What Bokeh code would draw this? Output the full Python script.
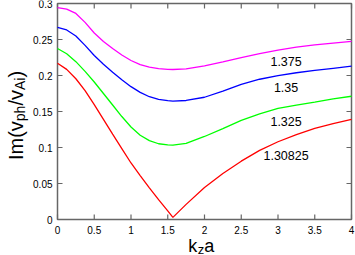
import math
from bokeh.plotting import figure
from bokeh.models import Range1d
from bokeh.core.properties import value
from bokeh.embed import file_html
from bokeh.resources import INLINE

# ---- data ----
kza = [0.0, 0.125, 0.25, 0.375, 0.5, 0.625, 0.75, 0.875, 1.0, 1.125, 1.25, 1.375, 1.5, 1.57,
       1.75, 2.0, 2.25, 2.5, 2.75, 3.0, 3.25, 3.5, 3.75, 4.0]
im_1375 = [0.2944, 0.2922, 0.2862, 0.2738, 0.2590, 0.2472, 0.2375, 0.2285, 0.2208, 0.2150, 0.2115, 0.2095, 0.2086, 0.2083,
           0.2093, 0.2133, 0.2188, 0.2248, 0.2303, 0.2353, 0.2393, 0.2425, 0.2450, 0.2475]
im_1350 = [0.2667, 0.2632, 0.2548, 0.2418, 0.2277, 0.2155, 0.2045, 0.1940, 0.1845, 0.1765, 0.1705, 0.1667, 0.1650, 0.1645,
           0.1653, 0.1698, 0.1783, 0.1878, 0.1948, 0.1998, 0.2038, 0.2070, 0.2100, 0.2130]
im_1325 = [0.2375, 0.2302, 0.2192, 0.2057, 0.1910, 0.1750, 0.1590, 0.1430, 0.1285, 0.1170, 0.1095, 0.1052, 0.1036, 0.1033,
           0.1058, 0.1153, 0.1263, 0.1378, 0.1468, 0.1543, 0.1590, 0.1630, 0.1675, 0.1712]
im_130825 = [0.2170, 0.2085, 0.1955, 0.1790, 0.1595, 0.1390, 0.1185, 0.0985, 0.0785, 0.0610, 0.0440, 0.0275, 0.0120, 0.0030,
             0.0210, 0.0445, 0.0640, 0.0810, 0.0960, 0.1080, 0.1180, 0.1265, 0.1330, 0.1390]

series_names = ["1.375", "1.35", "1.325", "1.30825"]
series_colors = ["#ff00ff", "#0000ff", "#00ff00", "#ff0000"]
series_values = [im_1375, im_1350, im_1325, im_130825]
label_x = [3.11, 3.11, 3.11, 3.11]
label_y = [0.2199, 0.1838, 0.1361, 0.0889]

x_min, x_max = 0, 4
y_min, y_max = 0, 0.3
x_ticks = [0, 0.5, 1, 1.5, 2, 2.5, 3, 3.5, 4]
x_tick_labels = ["0", "0.5", "1", "1.5", "2", "2.5", "3", "3.5", "4"]
y_ticks = [0, 0.05, 0.1, 0.15, 0.2, 0.25, 0.3]
y_tick_labels = ["0", "0.05", "0.1", "0.15", "0.2", "0.25", "0.3"]

# ---- layout (pixels) ----
FONT = "Liberation Sans"
FRAME = "#666666"
W, H = 355, 255
PX_L, PX_R, PX_T, PX_B = 57, 351, 3, 219     # plot box edges on the canvas

sx = (x_max - x_min) / (PX_R - PX_L)          # data units per pixel
sy = (y_max - y_min) / (PX_B - PX_T)
x_range = Range1d(x_min - PX_L * sx, x_max + (W - PX_R) * sx)
y_range = Range1d(y_min - (H - PX_B) * sy, y_max + PX_T * sy)

p = figure(width=W, height=H, output_backend="svg", toolbar_location=None,
           x_range=x_range, y_range=y_range,
           min_border=0, min_border_left=0, min_border_right=0, min_border_top=0, min_border_bottom=0,
           x_axis_location=None, y_axis_location=None)
p.grid.visible = False
p.outline_line_color = None
p.background_fill_color = "white"
p.border_fill_color = "white"

# plot box
p.quad(left=[x_min], right=[x_max], bottom=[y_min], top=[y_max],
       fill_color=None, line_color=FRAME, line_width=1.5)

# inward ticks on all four sides
TICK = 5
p.ray(x=x_ticks, y=[y_min] * len(x_ticks), length=TICK, length_units="screen", angle=math.pi / 2,
      line_color=FRAME, line_width=1.2)
p.ray(x=x_ticks, y=[y_max] * len(x_ticks), length=TICK, length_units="screen", angle=-math.pi / 2,
      line_color=FRAME, line_width=1.2)
p.ray(x=[x_min] * len(y_ticks), y=y_ticks, length=TICK, length_units="screen", angle=0,
      line_color=FRAME, line_width=1.2)
p.ray(x=[x_max] * len(y_ticks), y=y_ticks, length=TICK, length_units="screen", angle=math.pi,
      line_color=FRAME, line_width=1.2)

# tick labels
p.text(x=x_ticks, y=[y_min] * len(x_ticks), text=x_tick_labels, y_offset=6,
       text_align="center", text_baseline="top",
       text_font=value(FONT), text_font_size=value("10px"), text_color="black")
p.text(x=[x_min] * len(y_ticks), y=y_ticks, text=y_tick_labels, x_offset=-5,
       text_align="right", text_baseline="middle",
       text_font=value(FONT), text_font_size=value("10px"), text_color="black")

# curves
for vals, col in zip(series_values, series_colors):
    p.line(kza, vals, line_color=col, line_width=1.3)

# curve labels
p.text(x=label_x, y=label_y, text=series_names, text_align="center", text_baseline="middle",
       text_font=value(FONT), text_font_size=value("12.5px"), text_color="black")

# ---- axis titles with subscripts, built from text pieces ----
EM = {"I": 0.278, "m": 0.833, "(": 0.333, "v": 0.5, "p": 0.556, "h": 0.556, "/": 0.278,
      "A": 0.667, "i": 0.222, ")": 0.333, "k": 0.5, "z": 0.5, "a": 0.556}

def text_w(s, size):
    return sum(EM[c] for c in s) * size

# y title (rotated, reading bottom to top), anchored at the box's lower-left corner
big, small = 20, 14
ypieces = [("Im(v", False), ("ph", True), ("/v", False), ("Ai", True), (")", False)]
total = sum(text_w(s, small if sub else big) for s, sub in ypieces)
pos = (PX_B - PX_T) / 2 - 4 - total / 2
for s, sub in ypieces:
    size = small if sub else big
    p.text(x=[x_min], y=[y_min], text=[s], angle=math.pi / 2,
           x_offset=-42 + (4 if sub else 0), y_offset=-pos,
           text_align="left", text_baseline="alphabetic",
           text_font=value(FONT), text_font_size=value(f"{size}px"), text_color="black")
    pos += text_w(s, size)

# x title
bigx, smallx = 18, 13
xpieces = [("k", False), ("z", True), ("a", False)]
totalx = sum(text_w(s, smallx if sub else bigx) for s, sub in xpieces)
posx = (PX_R - PX_L) / 2 - 3.5 - totalx / 2
for s, sub in xpieces:
    size = smallx if sub else bigx
    p.text(x=[x_min], y=[y_min], text=[s], x_offset=posx + (0.5 if sub else 0),
           y_offset=26 + (3.5 if sub else 0),
           text_align="left", text_baseline="alphabetic",
           text_font=value(FONT), text_font_size=value(f"{size}px"), text_color="black")
    posx += text_w(s, size) + (0.5 if sub else 0)

open("out.html", "w").write(file_html(p, INLINE))
